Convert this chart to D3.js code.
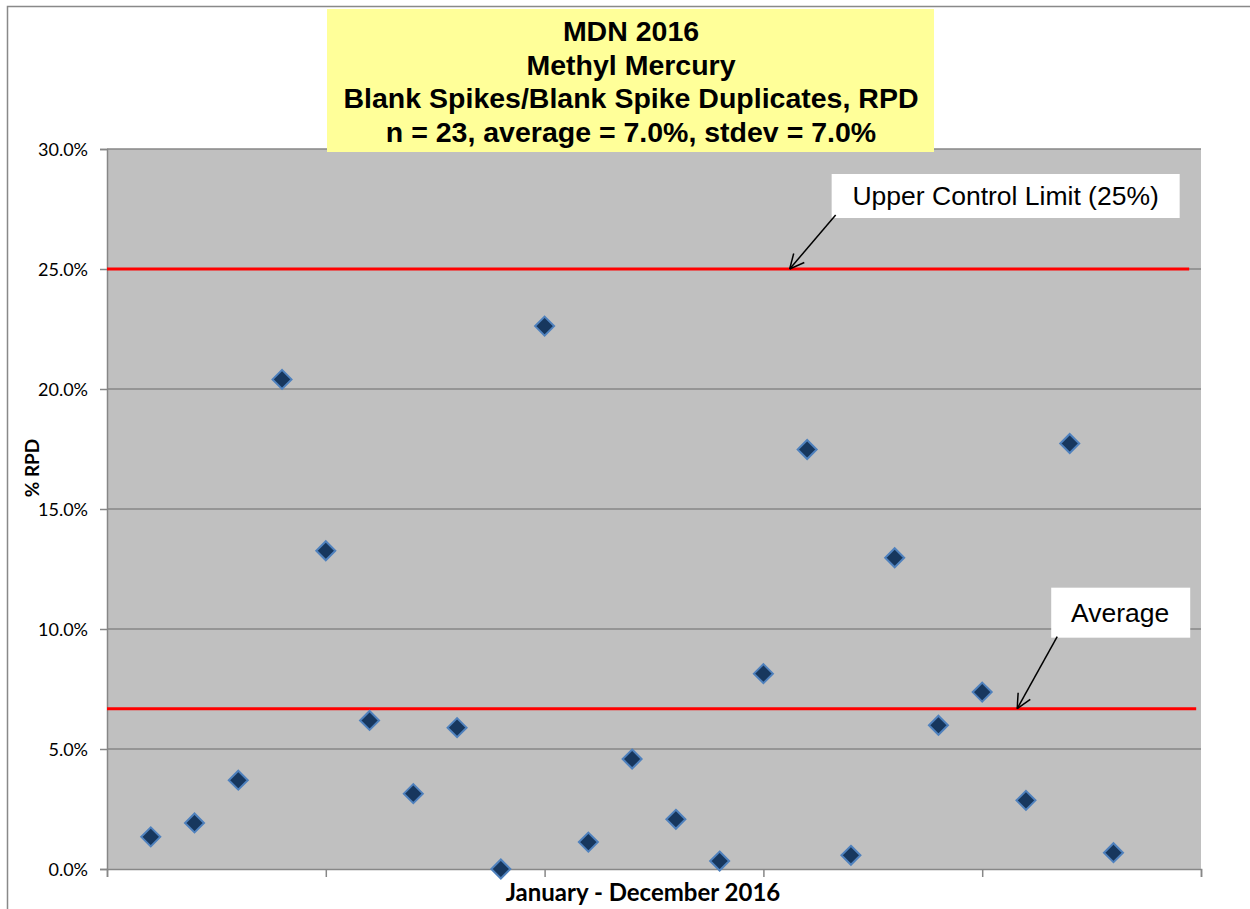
<!DOCTYPE html>
<html lang="en">
<head>
    <meta charset="UTF-8">
    <title>MDN 2016 Methyl Mercury - Blank Spike RPD</title>
    <script src="https://d3js.org/d3.v7.min.js"></script>
    <style>
        body { margin: 0; background: #ffffff; }
        svg { display: block; }
        .tick-label { font-family: Lato, "Open Sans", sans-serif; font-size: 18px; fill: #000; }
        .axis-title { font-family: Lato, "Open Sans", sans-serif; font-weight: bold; fill: #000; }
        .title-text { font-family: "Liberation Sans", Arial, sans-serif; font-weight: bold; font-size: 28.5px; fill: #000; }
        .callout-text { font-family: "Liberation Sans", Arial, sans-serif; font-size: 26.5px; fill: #000; }
    </style>
</head>
<body>
<div id="chart"></div>
<script>
    // sample number (1..23) and % RPD
    const sampleIdx = [1, 2, 3, 4, 5, 6, 7, 8, 9, 10, 11, 12, 13, 14, 15, 16, 17, 18, 19, 20, 21, 22, 23];
    const rpdValues = [1.34, 1.92, 3.70, 20.40, 13.26, 6.19, 3.14, 5.89, 0.0, 22.62, 1.12, 4.58, 2.07,
                       0.33, 8.14, 17.48, 0.57, 12.97, 5.99, 7.37, 2.86, 17.73, 0.68];

    const titleLines = ["MDN 2016", "Methyl Mercury", "Blank Spikes/Blank Spike Duplicates, RPD",
                        "n = 23, average = 7.0%, stdev = 7.0%"];
    const yTicks = [0, 5, 10, 15, 20, 25, 30];
    const xTicks = [0, 5, 10, 15, 20, 25];

    // control lines: value and where the drawn line stops on the x scale
    const limitNames = ["Upper Control Limit (25%)", "Average"];
    const limitValues = [25, 6.68];
    const limitEnds = [24.73, 24.89];
    const arrowTipX = [15.6, 20.8];

    const W = 1250, H = 909;
    const margin = { top: 149, right: 49, bottom: 40, left: 107 };
    const width = W - margin.left - margin.right;
    const height = H - margin.top - margin.bottom;

    const svg = d3.select("#chart").append("svg")
        .attr("width", W)
        .attr("height", H);

    // outer chart border
    svg.append("rect")
        .attr("x", 7.5).attr("y", 6.5)
        .attr("width", 1400).attr("height", 1100)
        .attr("fill", "#ffffff")
        .attr("stroke", "#898989")
        .attr("stroke-width", 1.5);

    const x = d3.scaleLinear().domain([0, 25]).range([0, width]);
    const y = d3.scaleLinear().domain([0, 30]).range([height, 0]);

    const g = svg.append("g").attr("transform", `translate(${margin.left},${margin.top})`);

    g.append("rect")
        .attr("width", width).attr("height", height)
        .attr("fill", "#c0c0c0");

    // horizontal gridlines
    g.append("g").selectAll("line")
        .data(yTicks.filter(d => d > 0))
        .enter().append("line")
        .attr("x1", 0).attr("x2", width)
        .attr("y1", d => y(d)).attr("y2", d => y(d))
        .attr("stroke", "#878787")
        .attr("stroke-width", 1.3);

    // axes
    const yAxis = g.append("g")
        .call(d3.axisLeft(y).tickValues(yTicks).tickSize(7).tickPadding(12)
            .tickFormat(d => d.toFixed(1) + "%"));
    const xAxis = g.append("g")
        .attr("transform", `translate(0,${height})`)
        .call(d3.axisBottom(x).tickValues(xTicks).tickSize(8).tickFormat(""));
    [yAxis, xAxis].forEach(a => {
        a.select(".domain").attr("stroke", "#878787").attr("stroke-width", 1.5);
        a.selectAll(".tick line").attr("stroke", "#878787").attr("stroke-width", 1.5);
    });
    yAxis.selectAll(".tick text").attr("class", "tick-label").attr("dy", "0.35em");

    // control limit lines
    g.append("g").selectAll("line")
        .data(limitValues)
        .enter().append("line")
        .attr("x1", 0)
        .attr("x2", (d, i) => x(limitEnds[i]))
        .attr("y1", d => y(d)).attr("y2", d => y(d))
        .attr("stroke", "#ff0000")
        .attr("stroke-width", 3);

    // data points (diamonds)
    g.append("g").selectAll("path")
        .data(sampleIdx)
        .enter().append("path")
        .attr("d", "M0,-9.5L9.5,0L0,9.5L-9.5,0Z")
        .attr("transform", (d, i) => `translate(${x(d)},${y(rpdValues[i])})`)
        .attr("fill", "#17375e")
        .attr("stroke", "#4f81bd")
        .attr("stroke-width", 2);

    // callouts
    const callouts = [
        { box: [42, -95, 348, 44], start: [46, -54], textDx: 174 },
        { box: [34, -121, 139, 50], start: [40, -72], textDx: 69 }
    ];
    callouts.forEach((c, i) => {
        const tx = x(arrowTipX[i]), ty = y(limitValues[i]);
        const cg = g.append("g").attr("transform", `translate(${tx},${ty})`);
        cg.append("rect")
            .attr("x", c.box[0]).attr("y", c.box[1])
            .attr("width", c.box[2]).attr("height", c.box[3])
            .attr("fill", "#ffffff");
        cg.append("text")
            .attr("class", "callout-text")
            .attr("x", c.box[0] + c.textDx)
            .attr("y", c.box[1] + c.box[3] / 2 + 9)
            .attr("text-anchor", "middle")
            .text(limitNames[i]);
        cg.append("line")
            .attr("x1", c.start[0]).attr("y1", c.start[1])
            .attr("x2", 0).attr("y2", 0)
            .attr("stroke", "#000").attr("stroke-width", 1.5);
        // open arrow head
        const ang = Math.atan2(c.start[1], c.start[0]);
        [-0.45, 0.45].forEach(off => {
            cg.append("line")
                .attr("x1", 0).attr("y1", 0)
                .attr("x2", 16 * Math.cos(ang + off)).attr("y2", 16 * Math.sin(ang + off))
                .attr("stroke", "#000").attr("stroke-width", 1.5);
        });
    });

    // axis titles
    svg.append("text")
        .attr("class", "axis-title")
        .attr("x", 643).attr("y", 901)
        .attr("text-anchor", "middle")
        .style("font-size", "24px")
        .text("January - December 2016");

    svg.append("text")
        .attr("class", "axis-title")
        .attr("transform", "translate(39,468) rotate(-90)")
        .attr("text-anchor", "middle")
        .style("font-size", "19px")
        .text("% RPD");

    // title box
    svg.append("rect")
        .attr("x", 327).attr("y", 9)
        .attr("width", 607).attr("height", 143)
        .attr("fill", "#ffff99");
    svg.append("g").selectAll("text")
        .data(titleLines)
        .enter().append("text")
        .attr("class", "title-text")
        .attr("x", 631)
        .attr("y", (d, i) => 41 + i * 33.7)
        .attr("text-anchor", "middle")
        .text(d => d);
</script>
</body>
</html>
